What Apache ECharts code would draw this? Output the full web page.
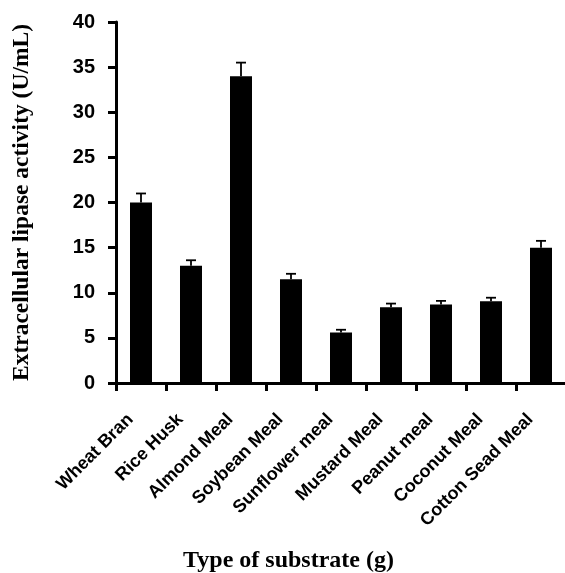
<!DOCTYPE html>
<html>
<head>
<meta charset="utf-8">
<script src="https://cdn.jsdelivr.net/npm/echarts@6/dist/echarts.min.js"></script>
<style>html,body{margin:0;padding:0;background:#fff}#c{width:565px;height:573px}</style>
</head>
<body>
<div id="c"></div>
<script>
var categories = ['Wheat Bran','Rice Husk','Almond Meal','Soybean Meal','Sunflower meal','Mustard Meal','Peanut meal','Coconut Meal','Cotton Sead Meal'];
var values = [20, 13, 34, 11.5, 5.6, 8.4, 8.7, 9.05, 15];
var errors = [1.0, 0.6, 1.5, 0.6, 0.3, 0.4, 0.4, 0.4, 0.75];
var yTicks = [0, 5, 10, 15, 20, 25, 30, 35, 40];

var chart = echarts.init(document.getElementById('c'));
var errData = values.map(function(v, i){ return [i, v, v + errors[i]]; });
chart.setOption({
  animation: false,
  backgroundColor: '#fff',
  grid: {left: 116, top: 22, width: 450, bottom: 190, containLabel: false, outerBoundsMode: 'none'},
  xAxis: {
    type: 'category',
    data: categories,
    name: 'Type of substrate (g)',
    nameLocation: 'middle',
    nameGap: 166,
    nameTextStyle: {fontFamily: 'Liberation Serif', fontWeight: 'bold', fontSize: 24, color: '#000', padding: [0, 0, 0, -105]},
    axisLine: {lineStyle: {color: '#000', width: 3}},
    axisTick: {show: true, length: 8, lineStyle: {color: '#000', width: 3}},
    axisLabel: {rotate: 45, interval: 0, margin: 23, padding: [0, 15, 0, 0], fontFamily: 'Liberation Sans', fontWeight: 'bold', fontSize: 18, color: '#000'}
  },
  yAxis: {
    type: 'value',
    min: yTicks[0],
    max: yTicks[yTicks.length - 1],
    interval: 5,
    name: 'Extracellular lipase activity (U/mL)',
    nameLocation: 'middle',
    nameGap: 82,
    nameTextStyle: {fontFamily: 'Liberation Serif', fontWeight: 'bold', fontSize: 23.5, color: '#000'},
    axisLine: {show: true, lineStyle: {color: '#000', width: 3}},
    axisTick: {show: true, length: 8, lineStyle: {color: '#000', width: 3}},
    splitLine: {show: false},
    axisLabel: {margin: 21, fontFamily: 'Liberation Sans', fontWeight: 'bold', fontSize: 20, color: '#000'}
  },
  series: [
    {
      type: 'bar',
      data: values,
      barWidth: 22,
      itemStyle: {color: '#000'}
    },
    {
      type: 'custom',
      data: errData,
      renderItem: function(params, api){
        var x = api.value(0);
        var low = api.coord([x, api.value(1)]);
        var high = api.coord([x, api.value(2)]);
        var hw = 5;
        return {
          type: 'group',
          children: [
            {type: 'line', shape: {x1: low[0], y1: low[1], x2: high[0], y2: high[1]}, style: {stroke: '#000', lineWidth: 1.8}},
            {type: 'line', shape: {x1: high[0] - hw, y1: high[1], x2: high[0] + hw, y2: high[1]}, style: {stroke: '#000', lineWidth: 1.8}}
          ]
        };
      },
      z: 5
    }
  ]
});
</script>
</body>
</html>
